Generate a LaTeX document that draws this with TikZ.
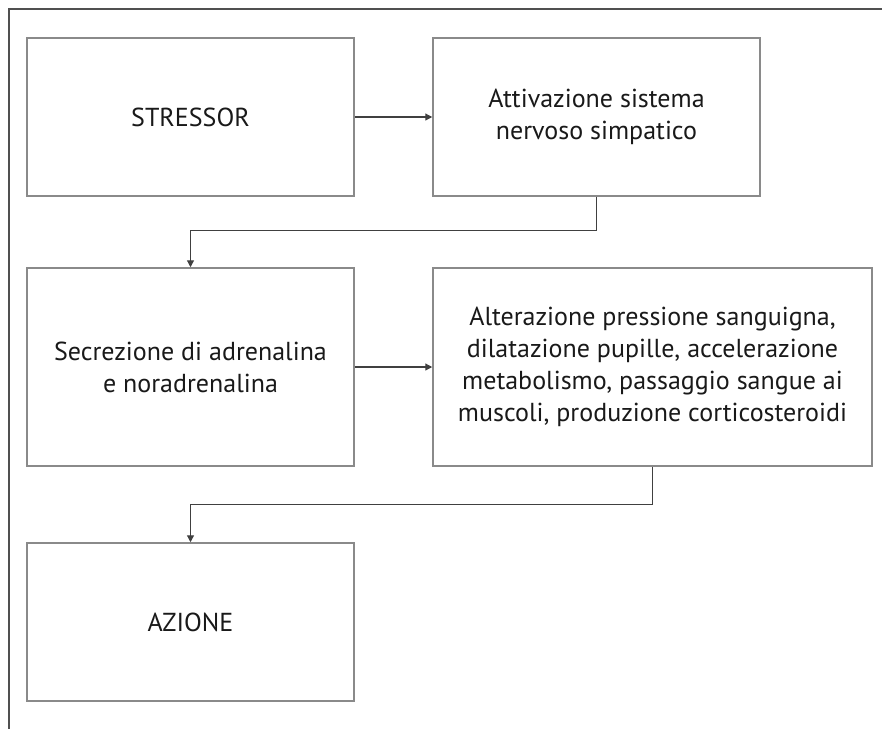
\documentclass[tikz,border=0pt]{standalone}
\usepackage{fontspec}
\setmainfont{PT Sans}
\usetikzlibrary{arrows.meta}
\definecolor{boxgray}{HTML}{8A8A8A}
\definecolor{linegray}{HTML}{404040}
\definecolor{framegray}{HTML}{505050}
\begin{document}
\begin{tikzpicture}[x=1pt,y=-1pt,
  flowbox/.style={draw=boxgray, line width=1.5pt, inner sep=0pt, align=center,
    text=black!90, font=\fontsize{26}{32}\selectfont},
  conn/.style={draw=linegray, line width=1.2pt,
    -{Triangle[length=7pt,width=7pt]}}]
\useasboundingbox (0,0) rectangle (882,728);
% outer frame, running off the right and bottom edges
\draw[framegray, line width=2.5pt] (9,740) -- (9,9) -- (890,9);
% boxes
\node[flowbox, minimum width=327pt, minimum height=158pt] (stressor) at (190.5,117) {STRESSOR};
\node[flowbox, minimum width=327pt, minimum height=158pt] (attiv) at (596.5,117) {Attivazione sistema\\nervoso simpatico};
\node[flowbox, minimum width=327pt, minimum height=198pt] (secr) at (190.5,367) {Secrezione di adrenalina\\e noradrenalina};
\node[flowbox, minimum width=439pt, minimum height=198pt] (alter) at (652.5,367) {Alterazione pressione sanguigna,\\dilatazione pupille, accelerazione\\metabolismo, passaggio sangue ai\\muscoli, produzione corticosteroidi};
\node[flowbox, minimum width=327pt, minimum height=158pt] (azione) at (190.5,622) {AZIONE};
% connectors
\draw[conn] (stressor.east) -- (attiv.west);
\draw[conn] (attiv.south) -- ++(0,34) -| (secr.north);
\draw[conn] (secr.east) -- (alter.west);
\draw[conn] (alter.south) -- ++(0,38) -| (azione.north);
\end{tikzpicture}
\end{document}
